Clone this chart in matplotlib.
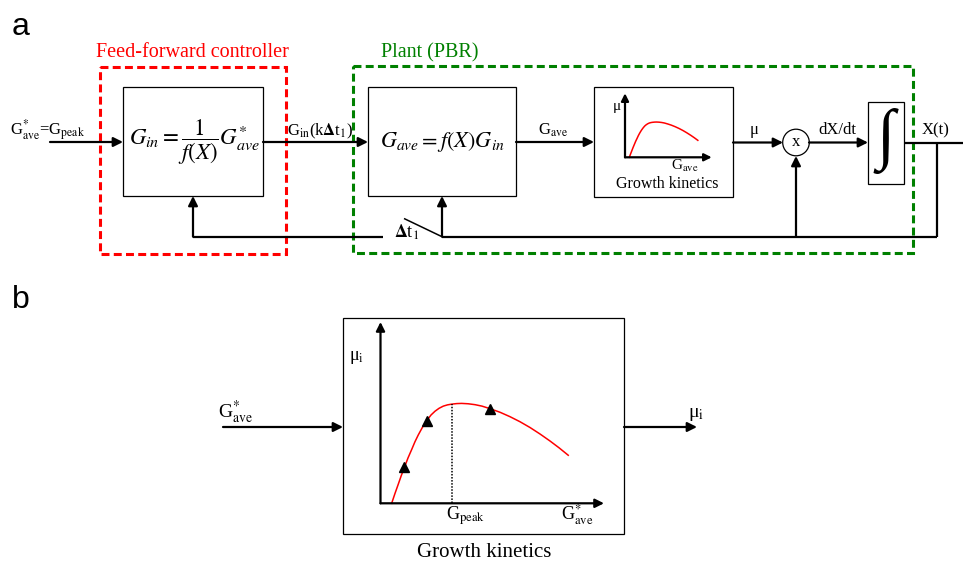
import matplotlib
matplotlib.use('Agg')
import matplotlib.pyplot as plt
from matplotlib.patches import Rectangle, Circle

plt.rcParams['mathtext.fontset'] = 'stix'
plt.rcParams['font.family'] = ['Liberation Serif', 'DejaVu Serif']

W, H = 963, 561

# Growth kinetics: specific growth rate mu against average irradiance G (normalised axes)
growth_G = [0.050, 0.065, 0.080, 0.093, 0.107, 0.123, 0.140, 0.154, 0.169,
            0.188, 0.207, 0.226, 0.244, 0.262, 0.281, 0.300, 0.319, 0.341,
            0.363, 0.392, 0.423, 0.454, 0.490, 0.535, 0.579, 0.624, 0.669,
            0.714, 0.758, 0.799, 0.840]
growth_mu = [0.000, 0.055, 0.107, 0.153, 0.198, 0.250, 0.298, 0.339, 0.377,
             0.420, 0.456, 0.487, 0.508, 0.524, 0.536, 0.543, 0.547, 0.550,
             0.551, 0.549, 0.544, 0.536, 0.522, 0.502, 0.478, 0.450, 0.418,
             0.382, 0.344, 0.306, 0.265]
# operating points marked on the curve
point_G = [0.107, 0.207, 0.490]
point_mu = [0.198, 0.456, 0.522]
# irradiance giving the peak growth rate
G_peak = 0.319
mu_at_peak = 0.547

fig = plt.figure(figsize=(W / 100, H / 100), dpi=100)
ax = fig.add_axes([0, 0, 1, 1])
ax.set_xlim(0, W)
ax.set_ylim(H, 0)
ax.axis('off')

LW = 1.6


def line(xs, ys, lw=LW, a=ax):
    a.plot(xs, ys, color='black', lw=lw, solid_capstyle='butt', clip_on=False)


def arrow(x0, y0, x1, y1, a=ax, ms=14, lw=LW):
    a.annotate('', xy=(x1, y1), xytext=(x0, y0), annotation_clip=False,
               arrowprops=dict(arrowstyle='-|>', color='black', lw=lw,
                               mutation_scale=ms, shrinkA=0, shrinkB=0))


def box(x0, y0, x1, y1, lw=0.9):
    ax.add_patch(Rectangle((x0, y0), x1 - x0, y1 - y0, fill=False,
                           ec='black', lw=lw))


def txt(x, y, s, size=11, ha='center', va='baseline', **kw):
    ax.text(x, y, s, fontsize=size, ha=ha, va=va, **kw)


def kinetics_axes(x0, y0, w, h):
    """Axes whose unit square spans the plotted growth curve region."""
    k = fig.add_axes([x0 / W, 1 - y0 / H, w / W, h / H])
    k.set_xlim(0, 1)
    k.set_ylim(0, 1)
    k.axis('off')
    return k


# ---------------- panel a ----------------
ax.text(12, 35, 'a', fontsize=23, family='Liberation Sans', ha='left', va='baseline')

# dashed grouping frames
ax.add_patch(Rectangle((100, 67), 186, 187, fill=False, ec='#ff0000', lw=2.2,
                       ls=(0, (2.6, 1.4))))
ax.add_patch(Rectangle((353, 66), 560, 187, fill=False, ec='#008000', lw=2.2,
                       ls=(0, (2.6, 1.4))))
txt(192, 57, 'Feed-forward controller', size=14.5, color='#ff0000')
txt(430, 57, 'Plant (PBR)', size=14.5, color='#008000')

# controller block
box(123, 87, 263, 196)
txt(194, 142, r'$G_{in}=\dfrac{1}{f(X)}G^{*}_{ave}$', size=16.5, va='center')
arrow(50, 142, 123, 142)
txt(10, 135, r'G$^{*}_{\mathrm{ave}}$=G$_{\mathrm{peak}}$', size=12, ha='left')

# plant block
arrow(263, 142, 368, 142)
txt(287, 135, r'G$_{\mathrm{in}}$(k$\mathbf{\Delta}$t$_{1}$)', size=12, ha='left')
box(368, 87, 516, 196)
txt(442, 142, r'$G_{ave}=f(X)G_{in}$', size=16, va='center')

arrow(516, 142, 594, 142)
txt(553, 135, r'G$_{\mathrm{ave}}$', size=12)

# small growth kinetics block
box(594, 87, 733, 197)
k1 = kinetics_axes(625, 157.3, 86.7, 64)
arrow(0, 0, 1.0, 0, a=k1, ms=11)
arrow(0, 0, 0, 1.0, a=k1, ms=11)
k1.plot(growth_G, growth_mu, color='red', lw=1.1, clip_on=False)
txt(617, 110, 'μ', size=11)
txt(685, 170, r'G$_{\mathrm{ave}}$', size=11)
txt(667, 188, 'Growth kinetics', size=11.5)

# multiplier and integrator
arrow(733, 142.5, 783, 142.5)
txt(754, 134, 'μ', size=12)
ax.add_patch(Circle((796, 142.5), 13.3, fill=False, ec='black', lw=0.9))
txt(796, 142, 'x', size=12, va='center')
arrow(809, 142.5, 868, 142.5)
txt(837, 134, 'dX/dt', size=12)
box(868, 102, 904, 184)
txt(886, 141, '∫', size=48, va='center', fontweight='bold')
line([904, 963], [142.5, 142.5])
txt(936, 134, 'X(t)', size=12)

# feedback path with sampling switch
line([936.5, 936.5], [142.5, 236.7])
line([442, 936.5], [236.7, 236.7])
arrow(796, 236.7, 796, 156)
arrow(442, 236.7, 442, 196)
line([404, 442], [218.5, 236.7], lw=1.1)
line([193, 383], [236.7, 236.7])
arrow(193, 236.7, 193, 196)
txt(394, 238, r'$\mathbf{\Delta}$t$_{1}$', size=13, ha='left')

# ---------------- panel b ----------------
ax.text(12, 308, 'b', fontsize=23, family='Liberation Sans', ha='left', va='baseline')

box(343, 318, 624, 534)
arrow(223, 427, 343, 427)
txt(218, 418, r'G$^{*}_{\mathrm{ave}}$', size=14, ha='left')
arrow(624, 427, 697, 427)
txt(688, 417, r'μ$_{\mathrm{i}}$', size=14, ha='left')

k2 = kinetics_axes(380.5, 503.3, 223.5, 181.3)
arrow(0, 0, 1.0, 0, a=k2, ms=13)
arrow(0, 0, 0, 1.0, a=k2, ms=13)
k2.plot(growth_G, growth_mu, color='red', lw=1.1, clip_on=False)
k2.plot([G_peak, G_peak], [0, mu_at_peak], color='black', lw=1.1,
        ls=(0, (1, 1)), clip_on=False)
k2.plot(point_G, point_mu, ls='none', marker='^', ms=7, color='black',
        clip_on=False)
txt(357, 360, r'μ$_{\mathrm{i}}$', size=13)
txt(466, 520, r'G$_{\mathrm{peak}}$', size=13)
txt(577, 520, r'G$^{*}_{\mathrm{ave}}$', size=13)
txt(484, 557, 'Growth kinetics', size=15)

fig.savefig('out.png', dpi=100)
